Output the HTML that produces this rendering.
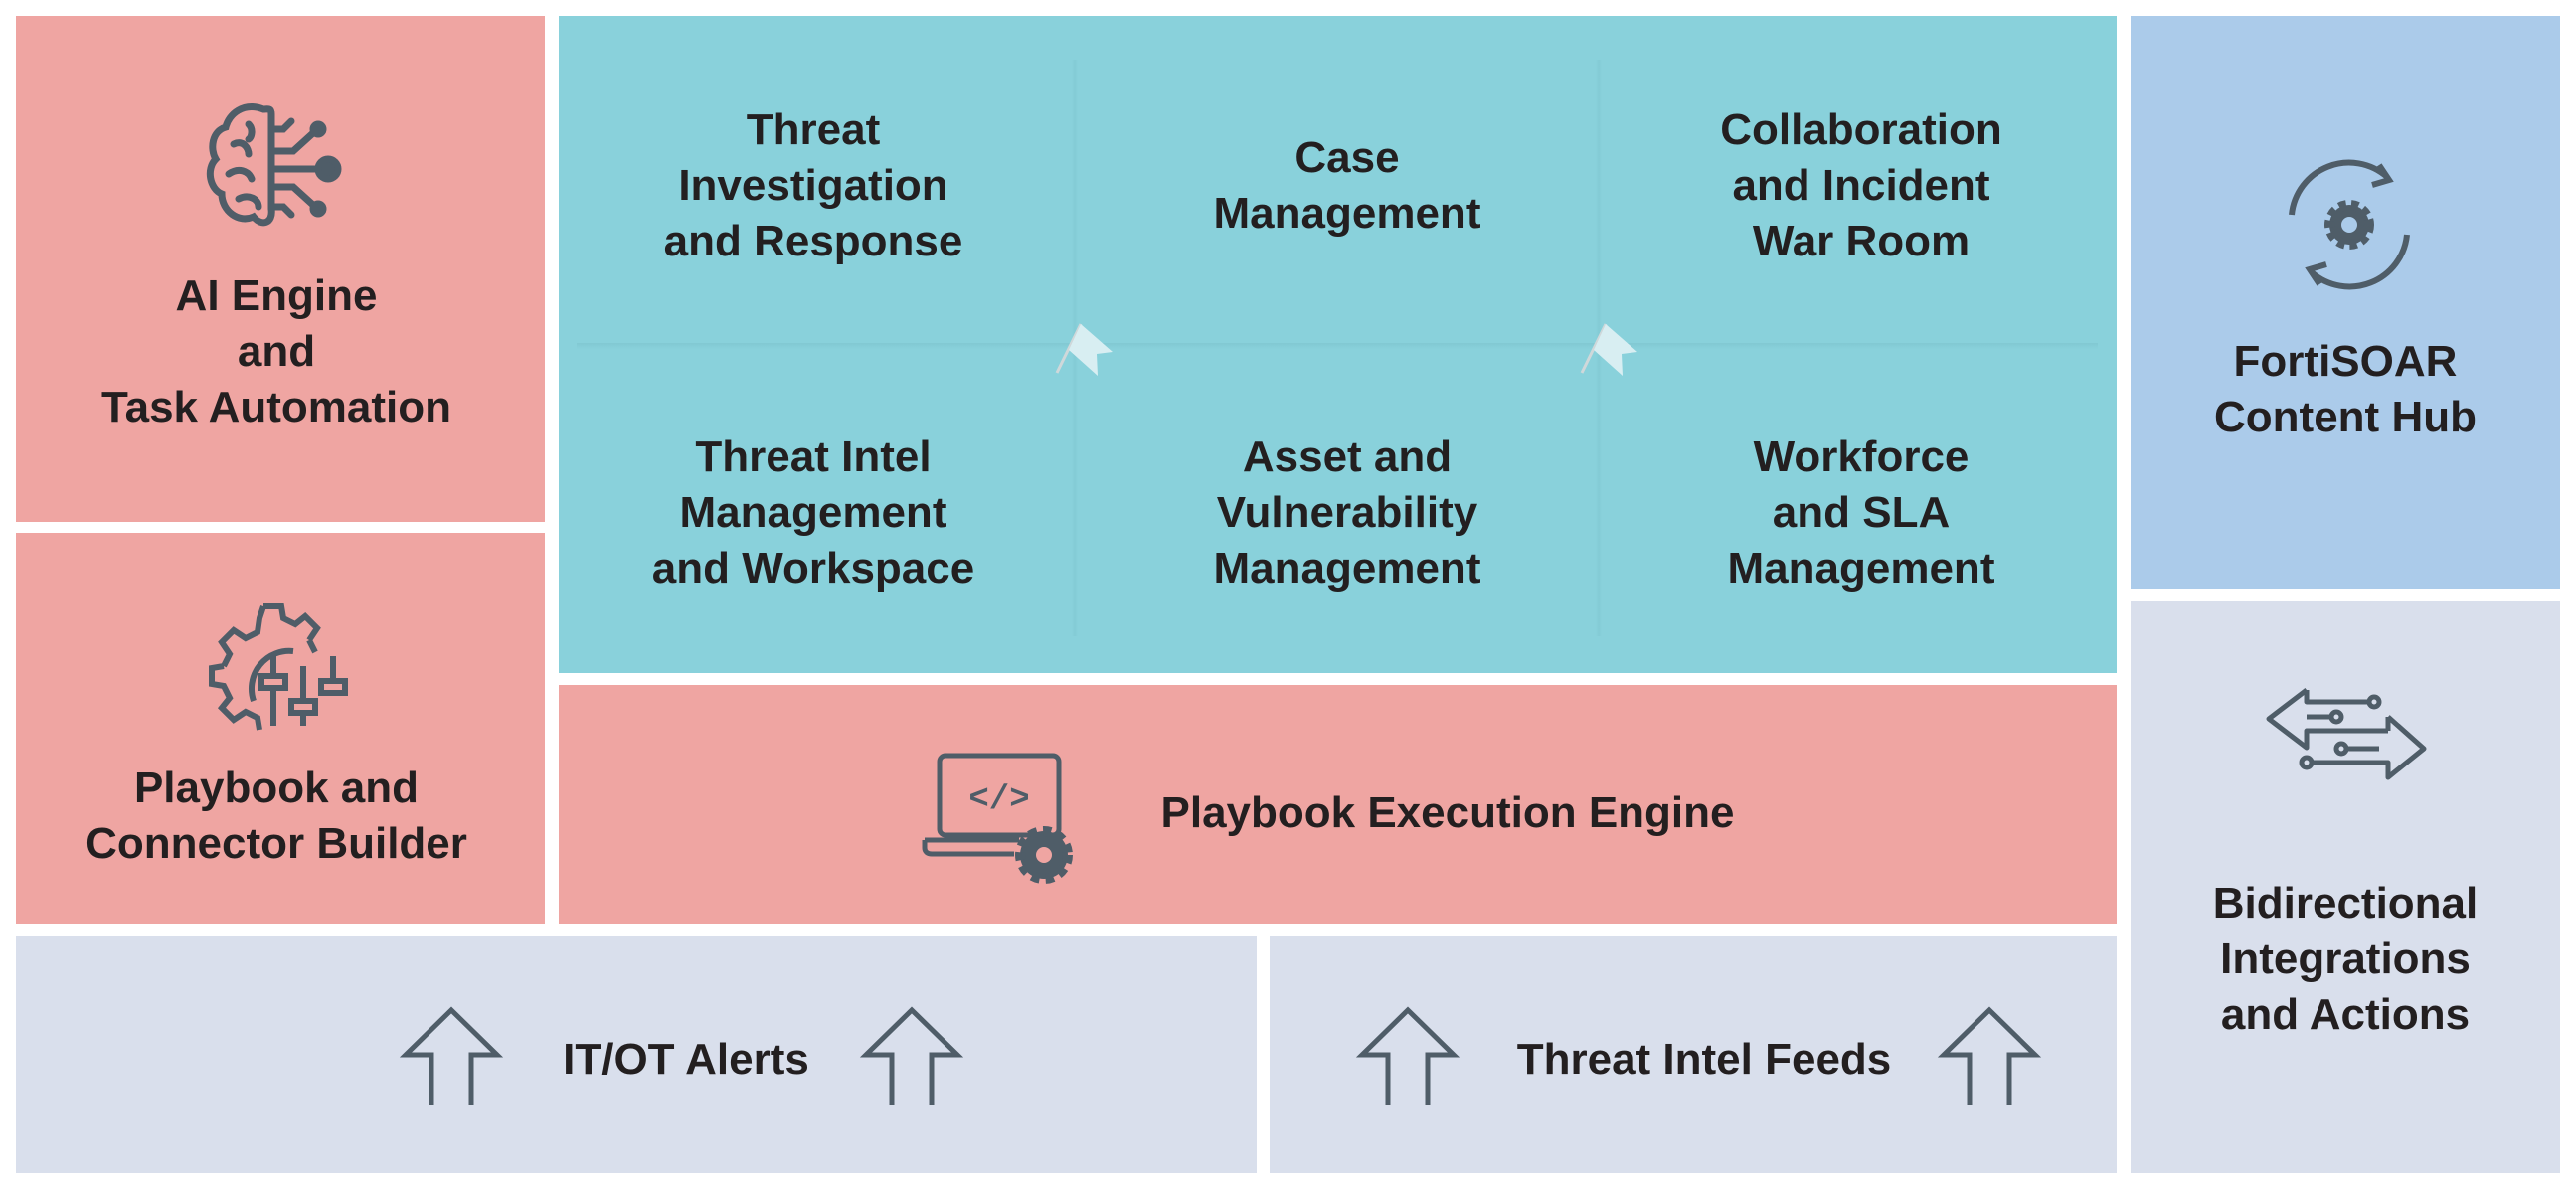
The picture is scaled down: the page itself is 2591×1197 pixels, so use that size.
<!DOCTYPE html>
<html><head><meta charset="utf-8"><style>
body{margin:0;width:2591px;height:1197px;background:#fff;position:relative;overflow:hidden;font-family:"Liberation Sans",sans-serif;}
.b{position:absolute;}
.t{position:absolute;transform:translate(-50%,-50%);text-align:center;font-weight:bold;font-size:44px;line-height:56px;color:#231F20;white-space:nowrap;}
svg{position:absolute;overflow:visible}
</style></head><body>
<div class="b" style="left:16px;top:16px;width:532px;height:509px;background:#EFA5A2"></div>
<div class="b" style="left:16px;top:536px;width:532px;height:393px;background:#EFA5A2"></div>
<div class="b" style="left:562px;top:16px;width:1567px;height:661px;background:#89D1DB"></div>
<div class="b" style="left:562px;top:689px;width:1567px;height:240px;background:#EFA5A2"></div>
<div class="b" style="left:2143px;top:16px;width:432px;height:576px;background:#ABCBEA"></div>
<div class="b" style="left:2143px;top:605px;width:432px;height:575px;background:#D9DFEC"></div>
<div class="b" style="left:16px;top:942px;width:1248px;height:238px;background:#D9DFEC"></div>
<div class="b" style="left:1277px;top:942px;width:852px;height:238px;background:#D9DFEC"></div>

<div class="b" style="left:580px;top:345px;width:1530px;height:6px;background:linear-gradient(#7fc6d0,#89D1DB);opacity:.8"></div>
<div class="b" style="left:1078px;top:60px;width:6px;height:580px;background:linear-gradient(90deg,#89D1DB,#7fc6d0,#89D1DB);opacity:.6"></div>
<div class="b" style="left:1605px;top:60px;width:6px;height:580px;background:linear-gradient(90deg,#89D1DB,#7fc6d0,#89D1DB);opacity:.6"></div>
<svg style="left:1055px;top:310px" width="75" height="75"><line x1="8" y1="65" x2="32" y2="16" stroke="#cfd8da" stroke-width="3"/><path d="M32 16 L64 44 L48 46 L49 68 L20 42 Z" fill="#d8eef2"/></svg>
<svg style="left:1583px;top:310px" width="75" height="75"><line x1="8" y1="65" x2="32" y2="16" stroke="#cfd8da" stroke-width="3"/><path d="M32 16 L64 44 L48 46 L49 68 L20 42 Z" fill="#d8eef2"/></svg>

<div class="t" style="left:818px;top:187px">Threat<br>Investigation<br>and Response</div>
<div class="t" style="left:1355px;top:187px">Case<br>Management</div>
<div class="t" style="left:1872px;top:187px">Collaboration<br>and Incident<br>War Room</div>
<div class="t" style="left:818px;top:516px">Threat Intel<br>Management<br>and Workspace</div>
<div class="t" style="left:1355px;top:516px">Asset and<br>Vulnerability<br>Management</div>
<div class="t" style="left:1872px;top:516px">Workforce<br>and SLA<br>Management</div>

<svg style="left:205px;top:100px" width="150" height="140" fill="none" stroke="#4F5D68" stroke-width="7" stroke-linecap="round">
<path d="M60 10 C40 2 25 15 22 28 C8 32 6 50 12 60 C2 70 6 90 18 95 C18 112 35 125 50 118 C58 128 70 125 68 110 L68 15 C68 8 64 10 60 10Z"/>
<path d="M30 45 C40 40 45 50 45 55 M25 75 C35 68 45 72 48 80 M35 100 C45 95 55 100 55 108 M45 25 C50 30 48 38 45 40"/>
<path d="M68 30 L80 30 L88 22 M68 52 L90 52 L112 32 M68 70 L125 70 M68 88 L90 88 L112 108 M68 108 L80 108 L88 116"/>
<circle cx="125" cy="70" r="10" fill="#4F5D68"/><circle cx="115" cy="30" r="5" fill="#4F5D68"/><circle cx="115" cy="110" r="5" fill="#4F5D68"/>
</svg>
<div class="t" style="left:278px;top:354px">AI Engine<br>and<br>Task Automation</div>

<svg style="left:205px;top:600px" width="150" height="140" fill="none" stroke="#4F5D68" stroke-width="6">
<path d="M60 10 L78 10 L80 22 L92 28 L102 20 L114 32 L106 44 M20 70 L8 72 L8 88 L20 90 L26 102 L18 112 L30 124 L42 116 L54 122 L56 134 M106 44 L112 56 M20 70 L26 58 L18 46 L30 34 L42 42 L54 36 L56 22 L60 10"/>
<path d="M50 105 A38 38 0 0 1 90 55"/>
<line x1="70" y1="60" x2="70" y2="80"/><rect x="58" y="80" width="24" height="12"/><line x1="70" y1="92" x2="70" y2="130"/>
<line x1="100" y1="70" x2="100" y2="105"/><rect x="88" y="105" width="24" height="12"/><line x1="100" y1="117" x2="100" y2="130"/>
<line x1="130" y1="60" x2="130" y2="85"/><rect x="118" y="85" width="24" height="12"/>
</svg>
<div class="t" style="left:278px;top:821px">Playbook and<br>Connector Builder</div>

<svg style="left:925px;top:755px" width="160" height="130" fill="none" stroke="#4F5D68" stroke-width="5">
<rect x="20" y="5" width="120" height="80" rx="6"/><path d="M5 90 L100 90 M5 90 L5 98 C5 102 8 104 12 104 L95 104"/>
<text x="80" y="58" font-family="Liberation Mono" font-size="34" font-weight="bold" fill="#4F5D68" stroke="none" text-anchor="middle">&lt;/&gt;</text>
<circle cx="125" cy="105" r="24" fill="#4F5D68" stroke="#4F5D68" stroke-width="10" stroke-dasharray="8 6"/><circle cx="125" cy="105" r="8" fill="#EFA5A2" stroke="none"/>
</svg>
<div class="t" style="left:1456px;top:818px">Playbook Execution Engine</div>

<svg style="left:2293px;top:156px" width="140" height="140" fill="none" stroke="#4F5D68" stroke-width="6">
<path d="M12 60 A58 58 0 0 1 108 22"/><path d="M100 10 L110 25 L93 30"/>
<path d="M128 80 A58 58 0 0 1 32 118"/><path d="M40 130 L30 115 L47 110"/>
<circle cx="70" cy="70" r="20" fill="#4F5D68" stroke-width="10" stroke-dasharray="7 5"/><circle cx="70" cy="70" r="8" fill="#ABCBEA" stroke="none"/>
</svg>
<div class="t" style="left:2359px;top:392px">FortiSOAR<br>Content Hub</div>

<svg style="left:2280px;top:690px" width="160" height="100" fill="none" stroke="#4F5D68" stroke-width="5" stroke-linejoin="round">
<path d="M40 4 L2 33 L40 62 L40 45 L122 45 M40 4 L40 16 L103 16"/><circle cx="108" cy="16" r="5"/>
<path d="M40 31 L65 31"/><circle cx="70" cy="31" r="5"/>
<path d="M122 31 L158 63 L122 92 L122 77 L45 77"/><circle cx="40" cy="77" r="5"/>
<path d="M122 31 L122 45"/>
<path d="M80 63 L113 63"/><circle cx="75" cy="63" r="5"/>
</svg>
<div class="t" style="left:2359px;top:965px">Bidirectional<br>Integrations<br>and Actions</div>

<svg style="left:404px;top:1013px" width="100" height="100"><path d="M30 98 L30 48 L4 48 L50 3 L96 48 L70 48 L70 98" fill="none" stroke="#4F5D68" stroke-width="5"/></svg>
<svg style="left:867px;top:1013px" width="100" height="100"><path d="M30 98 L30 48 L4 48 L50 3 L96 48 L70 48 L70 98" fill="none" stroke="#4F5D68" stroke-width="5"/></svg>
<svg style="left:1366px;top:1013px" width="100" height="100"><path d="M30 98 L30 48 L4 48 L50 3 L96 48 L70 48 L70 98" fill="none" stroke="#4F5D68" stroke-width="5"/></svg>
<svg style="left:1951px;top:1013px" width="100" height="100"><path d="M30 98 L30 48 L4 48 L50 3 L96 48 L70 48 L70 98" fill="none" stroke="#4F5D68" stroke-width="5"/></svg>
<div class="t" style="left:690px;top:1066px">IT/OT Alerts</div>
<div class="t" style="left:1714px;top:1066px">Threat Intel Feeds</div>
</body></html>
